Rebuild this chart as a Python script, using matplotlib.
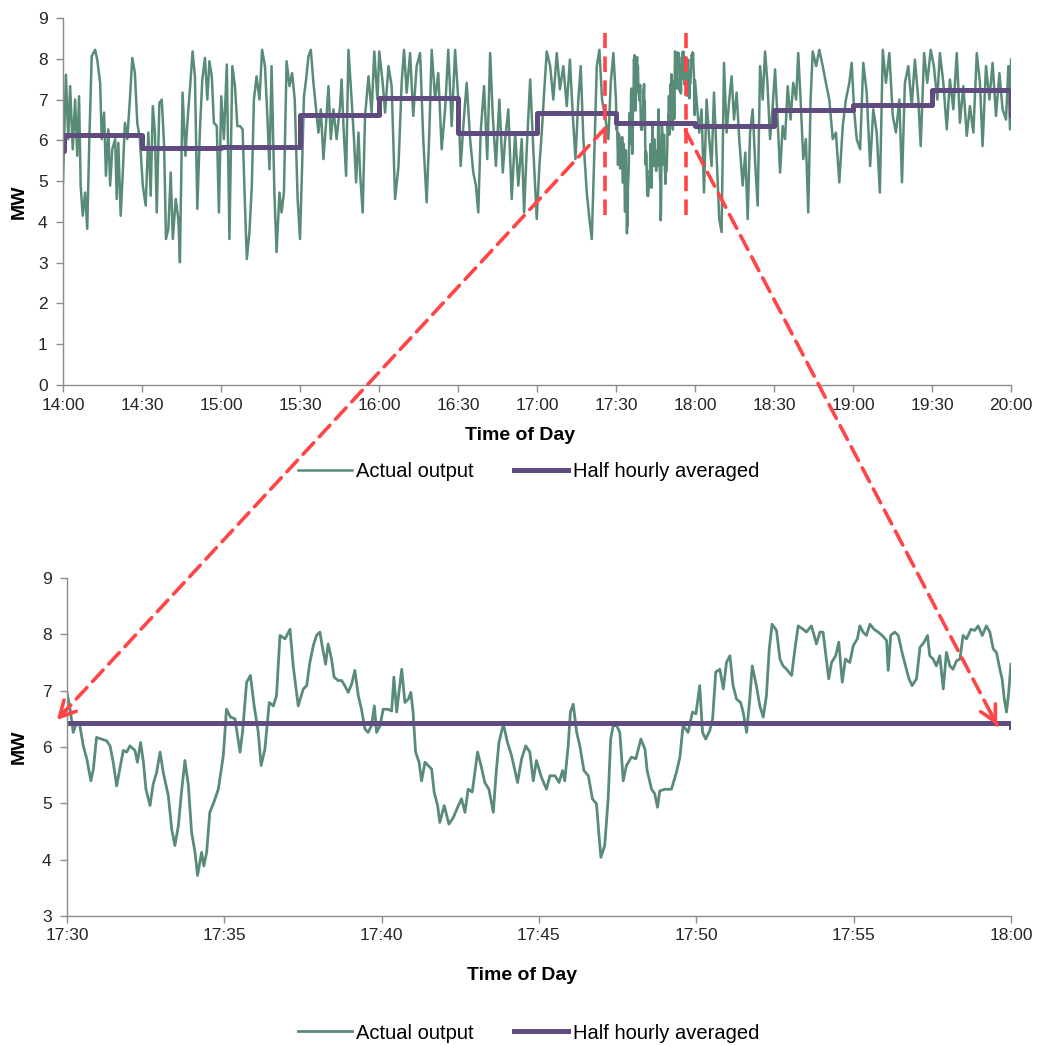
import numpy as np
import matplotlib
matplotlib.use("Agg")
import matplotlib.pyplot as plt
from matplotlib.patches import ConnectionPatch

plt.rcParams['font.family'] = ['Liberation Sans', 'DejaVu Sans']

# actual output, minutes after 14:00 (14:00-17:30)
early_pts = [
    (0.0, 4.97), (1.1, 7.61), (2.0, 6.03), (2.7, 7.33), (3.7, 5.78), (4.6, 7.00), (5.4, 5.62),
    (6.1, 7.08), (6.7, 4.89), (7.5, 4.15), (8.4, 4.72), (9.2, 3.83), (10.0, 6.03), (10.9, 8.06),
    (12.2, 8.22), (13.0, 7.98), (14.1, 7.41), (14.7, 6.03), (15.6, 6.68), (16.3, 5.13), (17.2, 6.27),
    (17.9, 4.89), (18.7, 5.78), (19.8, 6.03), (20.4, 4.56), (21.0, 5.94), (21.9, 4.15), (22.7, 5.21),
    (23.5, 6.43), (24.4, 6.03), (25.4, 7.00), (26.3, 8.02), (27.3, 7.65), (28.2, 6.43), (29.2, 6.03),
    (30.3, 4.89), (31.4, 4.40), (32.4, 6.19), (33.3, 4.64), (34.1, 6.84), (34.9, 6.19), (35.6, 4.23),
    (36.6, 6.92), (37.5, 7.00), (38.4, 5.86), (39.1, 3.58), (40.0, 3.83), (40.9, 5.21), (41.7, 3.58),
    (42.8, 4.56), (43.8, 4.07), (44.4, 3.01), (45.4, 7.17), (46.5, 5.62), (47.3, 6.51), (48.2, 7.25),
    (49.2, 8.18), (50.1, 7.57), (51.0, 4.32), (52.0, 6.27), (52.9, 7.49), (53.9, 8.02), (54.8, 7.00),
    (55.6, 7.94), (56.5, 7.57), (57.3, 6.43), (58.4, 6.35), (59.2, 4.23), (60.1, 7.08), (61.1, 6.03),
    (62.2, 7.86), (63.2, 3.58), (64.3, 7.82), (65.3, 7.33), (66.2, 6.35), (67.2, 6.35), (68.2, 6.27),
    (69.1, 4.40), (69.8, 3.09), (70.8, 3.75), (71.7, 4.89), (72.5, 7.00), (73.5, 7.57), (74.6, 7.00),
    (75.6, 8.22), (76.7, 7.82), (77.6, 6.60), (78.4, 5.29), (79.2, 7.82), (80.3, 4.64), (81.1, 3.26),
    (82.2, 4.72), (83.0, 4.23), (83.9, 4.72), (84.9, 7.94), (86.0, 7.33), (87.0, 7.65), (88.0, 7.00),
    (89.1, 4.56), (90.0, 3.58), (90.8, 5.37), (91.5, 7.08), (92.3, 7.49), (93.2, 8.06), (94.1, 8.22),
    (95.1, 7.41), (96.0, 6.84), (97.0, 6.19), (97.9, 6.76), (98.9, 5.54), (99.9, 6.43), (100.8, 7.33),
    (101.7, 6.03), (102.7, 6.76), (103.9, 6.03), (105.2, 6.84), (105.8, 7.49), (106.5, 6.35),
    (107.5, 5.13), (108.4, 8.22), (109.6, 7.00), (110.5, 6.03), (111.3, 4.97), (112.2, 6.19),
    (112.8, 5.21), (113.8, 4.23), (114.7, 6.60), (116.0, 7.57), (117.2, 6.68), (118.2, 8.18),
    (119.4, 7.00), (120.1, 8.18), (121.4, 7.41), (122.3, 6.68), (123.6, 7.82), (124.8, 7.33),
    (126.1, 4.56), (127.4, 5.37), (128.6, 7.41), (129.5, 8.22), (130.5, 7.17), (131.8, 8.14),
    (133.0, 6.60), (134.3, 7.82), (135.6, 8.14), (136.8, 6.03), (138.1, 4.48), (139.1, 6.19),
    (140.0, 8.22), (141.3, 7.00), (142.5, 7.65), (143.8, 5.78), (145.1, 6.76), (146.3, 8.22),
    (147.6, 6.35), (148.9, 8.22), (150.1, 7.00), (151.0, 5.37), (152.3, 6.60), (153.3, 7.41),
    (154.6, 6.03), (155.8, 5.21), (156.8, 4.89), (157.7, 4.23), (158.6, 6.19), (159.9, 7.33),
    (161.1, 5.54), (162.2, 8.14), (163.2, 6.60), (164.4, 5.37), (165.7, 7.00), (167.0, 5.21),
    (167.9, 6.03), (169.1, 6.76), (170.4, 4.56), (171.7, 6.19), (172.9, 4.89), (174.2, 6.03),
    (175.1, 4.23), (176.1, 5.78), (177.4, 7.49), (178.6, 5.78), (179.9, 4.07), (180.9, 5.37),
    (181.8, 6.19), (182.7, 7.17), (183.7, 8.18), (185.0, 7.82), (186.2, 7.00), (187.5, 8.14),
    (188.7, 7.25), (190.0, 7.82), (191.3, 6.84), (192.5, 7.98), (193.6, 6.60), (194.6, 5.54),
    (195.7, 7.00), (196.6, 7.82), (197.6, 6.03), (198.9, 4.72), (199.9, 4.07), (200.8, 3.58),
    (201.7, 5.54), (202.7, 7.82), (203.7, 8.22), (204.7, 7.00), (205.8, 6.60), (207.1, 6.03),
    (208.0, 7.41), (209.0, 8.14),
]

# actual output, minutes after 17:30 (the zoomed half hour)
zoom_pts = [
    (0.00, 6.97), (0.10, 6.67), (0.20, 6.26), (0.31, 6.44), (0.41, 6.38), (0.52, 6.02), (0.63, 5.79),
    (0.76, 5.40), (0.84, 5.61), (0.94, 6.17), (1.10, 6.14), (1.26, 6.11), (1.37, 6.02), (1.47, 5.73),
    (1.58, 5.31), (1.68, 5.61), (1.79, 5.94), (1.90, 5.91), (2.00, 6.02), (2.16, 5.94), (2.24, 5.73),
    (2.34, 6.08), (2.43, 5.73), (2.51, 5.25), (2.64, 4.96), (2.74, 5.34), (2.85, 5.55), (2.96, 5.91),
    (3.06, 5.55), (3.22, 5.14), (3.33, 4.54), (3.43, 4.25), (3.54, 4.60), (3.64, 5.20), (3.75, 5.76),
    (3.86, 5.31), (3.96, 4.49), (4.07, 4.13), (4.15, 3.72), (4.28, 4.13), (4.35, 3.89), (4.44, 4.13),
    (4.54, 4.84), (4.67, 5.02), (4.81, 5.25), (4.97, 5.85), (5.07, 6.67), (5.20, 6.53), (5.34, 6.50),
    (5.50, 5.91), (5.58, 6.26), (5.71, 7.15), (5.83, 7.27), (5.95, 6.73), (6.08, 6.26), (6.17, 5.67),
    (6.29, 5.96), (6.43, 6.79), (6.56, 6.73), (6.66, 6.91), (6.77, 7.98), (6.93, 7.92), (7.09, 8.09),
    (7.19, 7.44), (7.35, 6.73), (7.51, 7.03), (7.62, 7.09), (7.72, 7.50), (7.83, 7.80), (7.93, 7.98),
    (8.04, 8.04), (8.11, 7.80), (8.22, 7.47), (8.30, 7.83), (8.41, 7.56), (8.49, 7.24), (8.62, 7.18),
    (8.73, 7.18), (8.83, 7.09), (8.94, 6.97), (9.05, 7.12), (9.15, 7.36), (9.26, 6.91), (9.36, 6.67),
    (9.47, 6.32), (9.57, 6.26), (9.68, 6.38), (9.77, 6.73), (9.84, 6.26), (9.95, 6.38), (10.05, 6.67),
    (10.21, 6.67), (10.32, 6.64), (10.39, 7.24), (10.48, 6.62), (10.55, 6.97), (10.64, 7.38),
    (10.74, 6.79), (10.85, 6.85), (10.93, 6.97), (11.00, 6.62), (11.08, 5.91), (11.19, 5.73),
    (11.27, 5.40), (11.38, 5.73), (11.48, 5.67), (11.59, 5.61), (11.67, 5.20), (11.78, 4.96),
    (11.85, 4.66), (11.99, 4.96), (12.14, 4.63), (12.28, 4.75), (12.44, 4.96), (12.54, 5.08),
    (12.65, 4.84), (12.75, 5.25), (12.88, 5.20), (13.05, 5.91), (13.16, 5.67), (13.28, 5.37),
    (13.41, 5.25), (13.55, 4.84), (13.65, 5.61), (13.73, 6.08), (13.87, 6.41), (14.00, 6.08),
    (14.13, 5.85), (14.32, 5.37), (14.45, 5.79), (14.58, 6.02), (14.71, 5.91), (14.82, 5.40),
    (14.92, 5.76), (15.08, 5.46), (15.24, 5.25), (15.35, 5.49), (15.51, 5.49), (15.64, 5.37),
    (15.75, 5.58), (15.82, 5.40), (15.93, 6.02), (16.00, 6.62), (16.09, 6.76), (16.20, 6.26),
    (16.30, 6.02), (16.43, 5.58), (16.57, 5.49), (16.70, 5.08), (16.83, 4.99), (16.90, 4.49),
    (16.97, 4.04), (17.09, 4.25), (17.20, 5.08), (17.28, 6.14), (17.36, 6.38), (17.47, 6.38),
    (17.57, 6.26), (17.68, 5.40), (17.78, 5.67), (17.94, 5.82), (18.08, 5.79), (18.24, 6.14),
    (18.37, 5.96), (18.44, 5.58), (18.58, 5.25), (18.68, 5.17), (18.77, 4.93), (18.84, 5.22),
    (19.00, 5.25), (19.21, 5.25), (19.37, 5.55), (19.48, 5.82), (19.58, 6.38), (19.74, 6.26),
    (19.88, 6.62), (19.99, 6.59), (20.11, 7.09), (20.20, 6.26), (20.30, 6.14), (20.43, 6.29),
    (20.52, 6.50), (20.62, 7.33), (20.75, 7.38), (20.86, 7.03), (20.96, 7.50), (21.07, 7.62),
    (21.17, 7.09), (21.28, 6.85), (21.41, 6.79), (21.49, 6.62), (21.60, 6.26), (21.70, 6.85),
    (21.78, 7.44), (21.91, 7.09), (22.02, 6.73), (22.13, 6.53), (22.23, 6.91), (22.32, 7.74),
    (22.41, 8.18), (22.55, 8.07), (22.66, 7.56), (22.76, 7.44), (22.87, 7.38), (23.03, 7.27),
    (23.15, 7.80), (23.24, 8.15), (23.40, 8.09), (23.50, 8.04), (23.66, 8.15), (23.82, 7.83),
    (23.93, 8.04), (24.03, 8.04), (24.12, 7.62), (24.21, 7.21), (24.30, 7.50), (24.43, 7.62),
    (24.53, 7.86), (24.64, 7.15), (24.74, 7.56), (24.88, 7.50), (24.99, 7.80), (25.12, 7.92),
    (25.20, 8.15), (25.30, 8.04), (25.41, 7.98), (25.52, 8.18), (25.65, 8.09), (25.78, 8.04),
    (25.91, 7.98), (26.05, 7.89), (26.10, 7.36), (26.18, 7.98), (26.31, 8.04), (26.42, 7.98),
    (26.54, 7.68), (26.65, 7.44), (26.76, 7.21), (26.86, 7.09), (27.00, 7.21), (27.11, 7.77),
    (27.24, 7.86), (27.35, 7.98), (27.42, 7.62), (27.53, 7.56), (27.63, 7.44), (27.74, 7.62),
    (27.85, 7.03), (27.95, 7.68), (28.06, 7.44), (28.16, 7.38), (28.27, 7.53), (28.38, 7.56),
    (28.48, 7.98), (28.59, 7.92), (28.73, 8.09), (28.85, 8.07), (28.96, 8.15), (29.09, 7.98),
    (29.22, 8.15), (29.33, 8.04), (29.44, 7.74), (29.54, 7.68), (29.65, 7.38), (29.72, 7.21),
    (29.79, 6.85), (29.86, 6.62), (29.93, 6.97), (30.00, 7.47),
]

# actual output, minutes after 14:00 (18:00-20:00)
late_pts = [
    (240.6, 7.00), (241.6, 6.19), (242.5, 6.76), (243.4, 4.72), (244.4, 7.00), (245.4, 6.03),
    (246.3, 5.37), (247.2, 7.17), (248.2, 5.62), (249.2, 4.07), (250.1, 3.75), (251.0, 7.90),
    (252.0, 6.19), (253.0, 7.00), (253.9, 7.57), (254.8, 6.51), (255.8, 7.17), (256.8, 6.03),
    (258.1, 4.89), (259.1, 5.70), (260.0, 4.07), (260.9, 6.19), (261.9, 6.76), (262.9, 5.37),
    (263.8, 4.40), (264.7, 7.82), (265.7, 7.00), (266.6, 8.18), (267.5, 7.41), (268.5, 6.03),
    (269.5, 6.84), (270.4, 7.74), (271.3, 6.60), (272.3, 5.21), (273.3, 6.35), (274.2, 6.03),
    (275.2, 7.33), (276.3, 6.51), (277.3, 7.41), (278.4, 7.00), (279.2, 8.14), (280.1, 7.00),
    (281.1, 5.54), (282.1, 6.03), (283.0, 4.23), (283.9, 7.00), (284.7, 8.18), (286.0, 7.82),
    (287.2, 8.22), (288.5, 7.82), (289.7, 7.41), (291.0, 7.00), (292.3, 6.03), (293.5, 6.19),
    (294.8, 4.97), (296.1, 6.35), (297.3, 7.00), (298.6, 7.41), (299.5, 7.90), (300.4, 6.76),
    (301.4, 6.03), (302.7, 5.78), (303.9, 7.90), (305.2, 7.17), (306.5, 5.37), (307.7, 6.76),
    (309.0, 6.19), (310.2, 4.72), (311.3, 8.22), (312.5, 7.41), (313.8, 8.14), (315.1, 6.60),
    (316.3, 6.19), (317.6, 7.00), (318.6, 4.97), (319.7, 7.41), (321.0, 7.82), (322.3, 6.84),
    (323.5, 7.98), (324.8, 7.00), (325.7, 5.86), (327.0, 8.14), (328.2, 7.41), (329.5, 8.22),
    (330.7, 7.82), (332.0, 7.00), (333.0, 8.14), (334.3, 7.41), (335.6, 6.27), (336.8, 7.49),
    (338.1, 6.76), (339.4, 8.14), (340.6, 6.43), (341.9, 7.33), (343.2, 6.11), (344.4, 6.84),
    (345.7, 6.19), (347.0, 8.14), (348.2, 7.41), (349.2, 5.86), (350.5, 7.82), (351.8, 7.00),
    (353.0, 7.90), (354.3, 6.60), (355.6, 7.65), (356.8, 6.76), (358.1, 6.51), (359.0, 7.82),
    (359.6, 6.27), (360.0, 7.98),
]

# half hourly averages 14:00..19:30, plus the value before the first step and the last sample
half_hourly = [6.12, 5.80, 5.83, 6.62, 7.05, 6.18, 6.67, 6.43, 6.36, 6.74, 6.87, 7.23]
hh_first = 5.74
hh_last = 6.62

top_ticks = ["14:00", "14:30", "15:00", "15:30", "16:00", "16:30", "17:00",
             "17:30", "18:00", "18:30", "19:00", "19:30", "20:00"]
zoom_ticks = ["17:30", "17:35", "17:40", "17:45", "17:50", "17:55", "18:00"]

green = "#588C76"
purple = "#5F4B7E"
red = "#FF4545"
grey = "#8C8C8C"

early = np.array(early_pts)
zoom = np.array(zoom_pts)
late = np.array(late_pts)
top_t = np.concatenate([early[:, 0], 210 + zoom[:, 0], late[:, 0]])
top_mw = np.concatenate([early[:, 1], zoom[:, 1], late[:, 1]])

step_t = [0, 0.5] + [30 * (i + 1) for i in range(len(half_hourly) - 1)] + [360]
step_v = [hh_first] + half_hourly + [hh_last]

fig = plt.figure(figsize=(10.38, 10.46), dpi=100)
ax1 = fig.add_axes([0.0607, 0.6319, 0.9133, 0.3509])
ax2 = fig.add_axes([0.0645, 0.1243, 0.9094, 0.3231])


def style(ax):
    for s in ["top", "right"]:
        ax.spines[s].set_visible(False)
    for s in ["left", "bottom"]:
        ax.spines[s].set_color(grey)
        ax.spines[s].set_linewidth(1.0)
    ax.tick_params(direction="out", length=5, width=1, color=grey,
                   labelsize=12.5, labelcolor="#262626")
    ax.tick_params(axis="y", pad=6)
    ax.tick_params(axis="x", pad=4)


legend_kw = dict(loc="center", bbox_transform=fig.transFigure, ncol=2, frameon=False,
                 fontsize=14.5, handlelength=2.7, columnspacing=2.0, handletextpad=0.2)

# top: six hours
ax1.plot(top_t, top_mw, color=green, lw=1.8, label="Actual output")
ax1.plot(step_t, step_v, color=purple, lw=3.6, drawstyle="steps-post",
         label="Half hourly averaged")
ax1.set_xlim(0, 360)
ax1.set_ylim(0, 9)
ax1.set_xticks(np.arange(0, 361, 30))
ax1.set_xticklabels(top_ticks)
ax1.set_yticks(range(0, 10))
style(ax1)
ax1.set_xlabel("Time of Day", fontsize=14, fontweight="bold")
ax1.xaxis.set_label_coords(0.482, -0.113)
ax1.set_ylabel("MW", fontsize=14, fontweight="bold")
ax1.yaxis.set_label_coords(-0.037, 0.5)
ax1.legend(bbox_to_anchor=(0.509, 0.549), **legend_kw)

# bottom: 17:30-18:00
ax2.plot(zoom[:, 0], zoom[:, 1], color=green, lw=2.0, label="Actual output")
ax2.plot([0, 30], [half_hourly[7], half_hourly[8]], color=purple, lw=3.6,
         drawstyle="steps-post", label="Half hourly averaged")
ax2.set_xlim(0, 30)
ax2.set_ylim(3, 9)
ax2.set_xticks(np.arange(0, 31, 5))
ax2.set_xticklabels(zoom_ticks)
ax2.set_yticks(range(3, 10))
style(ax2)
ax2.set_xlabel("Time of Day", fontsize=14, fontweight="bold")
ax2.xaxis.set_label_coords(0.482, -0.150)
ax2.set_ylabel("MW", fontsize=14, fontweight="bold")
ax2.yaxis.set_label_coords(-0.041, 0.5)
ax2.legend(bbox_to_anchor=(0.509, 0.0124), **legend_kw)

# red dashed markers of the zoomed window
dash = (0, (4.3, 2.3))
for xv in [205.9, 236.7]:
    ax1.plot([xv, xv], [4.17, 8.63], color=red, lw=2.6, linestyle=dash, zorder=5)


def dashed_arrow(xyA, xyB):
    con = ConnectionPatch(xyA=xyA, coordsA=ax1.transData, xyB=xyB, coordsB=ax2.transData,
                          arrowstyle="-", linestyle=dash, lw=2.6, color=red, zorder=6)
    fig.add_artist(con)
    pA = ax1.transData.transform(xyA)
    pB = ax2.transData.transform(xyB)
    d = (pA - pB) / np.hypot(*(pA - pB))
    off = d * 14 * 72 / fig.dpi
    ax2.annotate("", xy=xyB, xycoords="data", xytext=(off[0], off[1]),
                 textcoords="offset points", annotation_clip=False,
                 arrowprops=dict(arrowstyle="->,head_length=0.75,head_width=0.4",
                                 mutation_scale=15, lw=2.6, color=red,
                                 shrinkA=0, shrinkB=0), zorder=6)


dashed_arrow((205.9, 6.30), (-0.32, 6.48))
dashed_arrow((236.3, 6.25), (29.56, 6.39))

fig.savefig("out.png", dpi=100)
